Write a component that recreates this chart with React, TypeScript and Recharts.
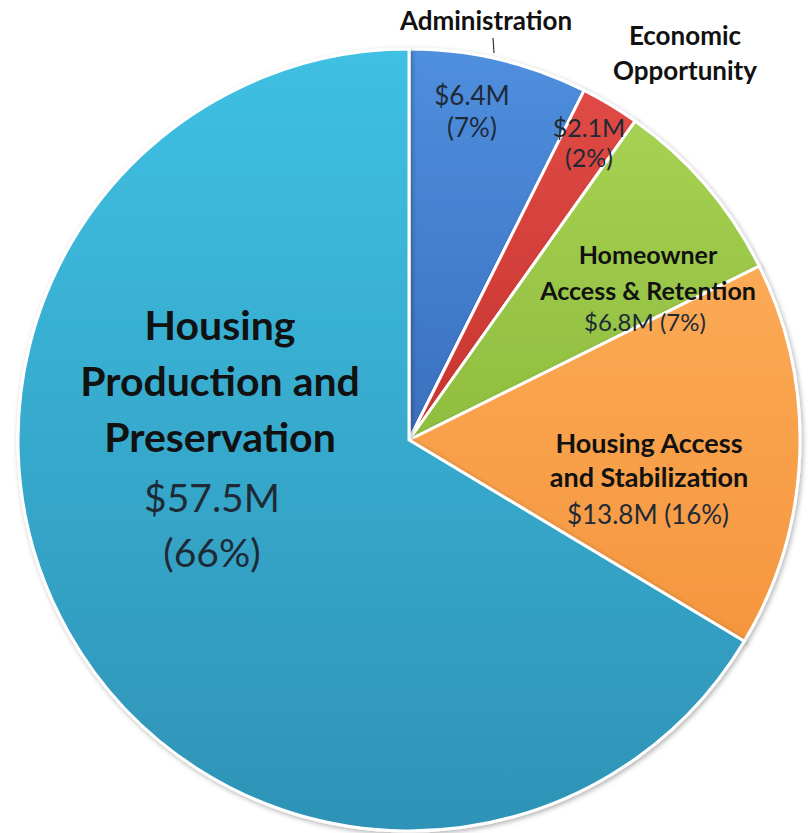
import { PieChart, Pie, Cell } from 'recharts'

// budget by program area, $M
const categories = [
  'Administration',
  'Economic Opportunity',
  'Homeowner Access & Retention',
  'Housing Access and Stabilization',
  'Housing Production and Preservation',
]
const amounts = [6.4, 2.1, 6.8, 13.8, 57.5]
const percentLabels = ['7%', '2%', '7%', '16%', '66%']
const nameLines = [
  ['Administration'],
  ['Economic', 'Opportunity'],
  ['Homeowner', 'Access & Retention'],
  ['Housing Access', 'and Stabilization'],
  ['Housing', 'Production and', 'Preservation'],
]

const gradients = [
  ['#4f8fde', '#3a70bf'],
  ['#e04a45', '#c7352f'],
  ['#a6d152', '#8fbd3e'],
  ['#fbaa55', '#f5963f'],
  ['#3fc0e3', '#2e93b6'],
]

// label placement (page coords)
const labelLayout = [
  { x: 486, y: 30, step: 0, size: 26, vx: 472, vy: 105, vstep: 32, vsize: 26, split: true },
  { x: 685, y: 45, step: 35, size: 26, vx: 589, vy: 137, vstep: 30, vsize: 25, split: true },
  { x: 648, y: 264, step: 36, size: 25, vx: 645, vy: 331, vstep: 0, vsize: 24, split: false },
  { x: 649, y: 453, step: 34, size: 27, vx: 648, vy: 524, vstep: 0, vsize: 26, split: false },
  { x: 220, y: 340, step: 56, size: 41, vx: 212, vy: 512, vstep: 55, vsize: 39, split: true },
]

const chartData = categories.map((name, i) => ({ name, value: amounts[i] }))

const font = 'Lato, "Open Sans", sans-serif'

const renderLabel = (props: any) => {
  const i = props.index
  const lay = labelLayout[i]
  const money = '$' + amounts[i].toFixed(1) + 'M'
  const pct = '(' + percentLabels[i] + ')'
  const valueRows = lay.split ? [money, pct] : [money + ' ' + pct]
  return (
    <g>
      {nameLines[i].map((t, k) => (
        <text key={'n' + k} x={lay.x} y={lay.y + k * lay.step} textAnchor="middle"
          fontFamily={font} fontWeight={700} fontSize={lay.size} fill="#111">{t}</text>
      ))}
      {valueRows.map((t, k) => (
        <text key={'v' + k} x={lay.vx} y={lay.vy + k * lay.vstep} textAnchor="middle"
          fontFamily={font} fontWeight={400} fontSize={lay.vsize} fill="#1e2a36">{t}</text>
      ))}
      {i === 0 && <line x1={493} y1={38} x2={494} y2={53} stroke="#333" strokeWidth={1.2} />}
    </g>
  )
}

const App = () => {
  return (
    <div style={{ position: 'absolute', left: 0, top: 0, width: 812, height: 833, background: '#fff' }}>
      <PieChart width={812} height={833} margin={{ top: 0, right: 0, bottom: 0, left: 0 }}>
        <defs>
          {gradients.map((g, i) => (
            <linearGradient key={i} id={'slice' + i} x1="0" y1="0" x2="0" y2="1">
              <stop offset="0%" stopColor={g[0]} />
              <stop offset="100%" stopColor={g[1]} />
            </linearGradient>
          ))}
          <filter id="soft" x="-10%" y="-10%" width="120%" height="120%">
            <feDropShadow dx="1.5" dy="2" stdDeviation="2.5" floodColor="#000" floodOpacity="0.3" />
          </filter>
        </defs>
        <Pie
          data={chartData}
          dataKey="value"
          nameKey="name"
          cx={409}
          cy={440}
          outerRadius={391}
          startAngle={90}
          endAngle={-270}
          stroke="#ffffff"
          strokeWidth={3}
          label={renderLabel}
          labelLine={false}
          isAnimationActive={false}
        >
          {chartData.map((d, i) => (
            <Cell key={d.name} fill={'url(#slice' + i + ')'} filter="url(#soft)" />
          ))}
        </Pie>
      </PieChart>
    </div>
  )
}

export default App
